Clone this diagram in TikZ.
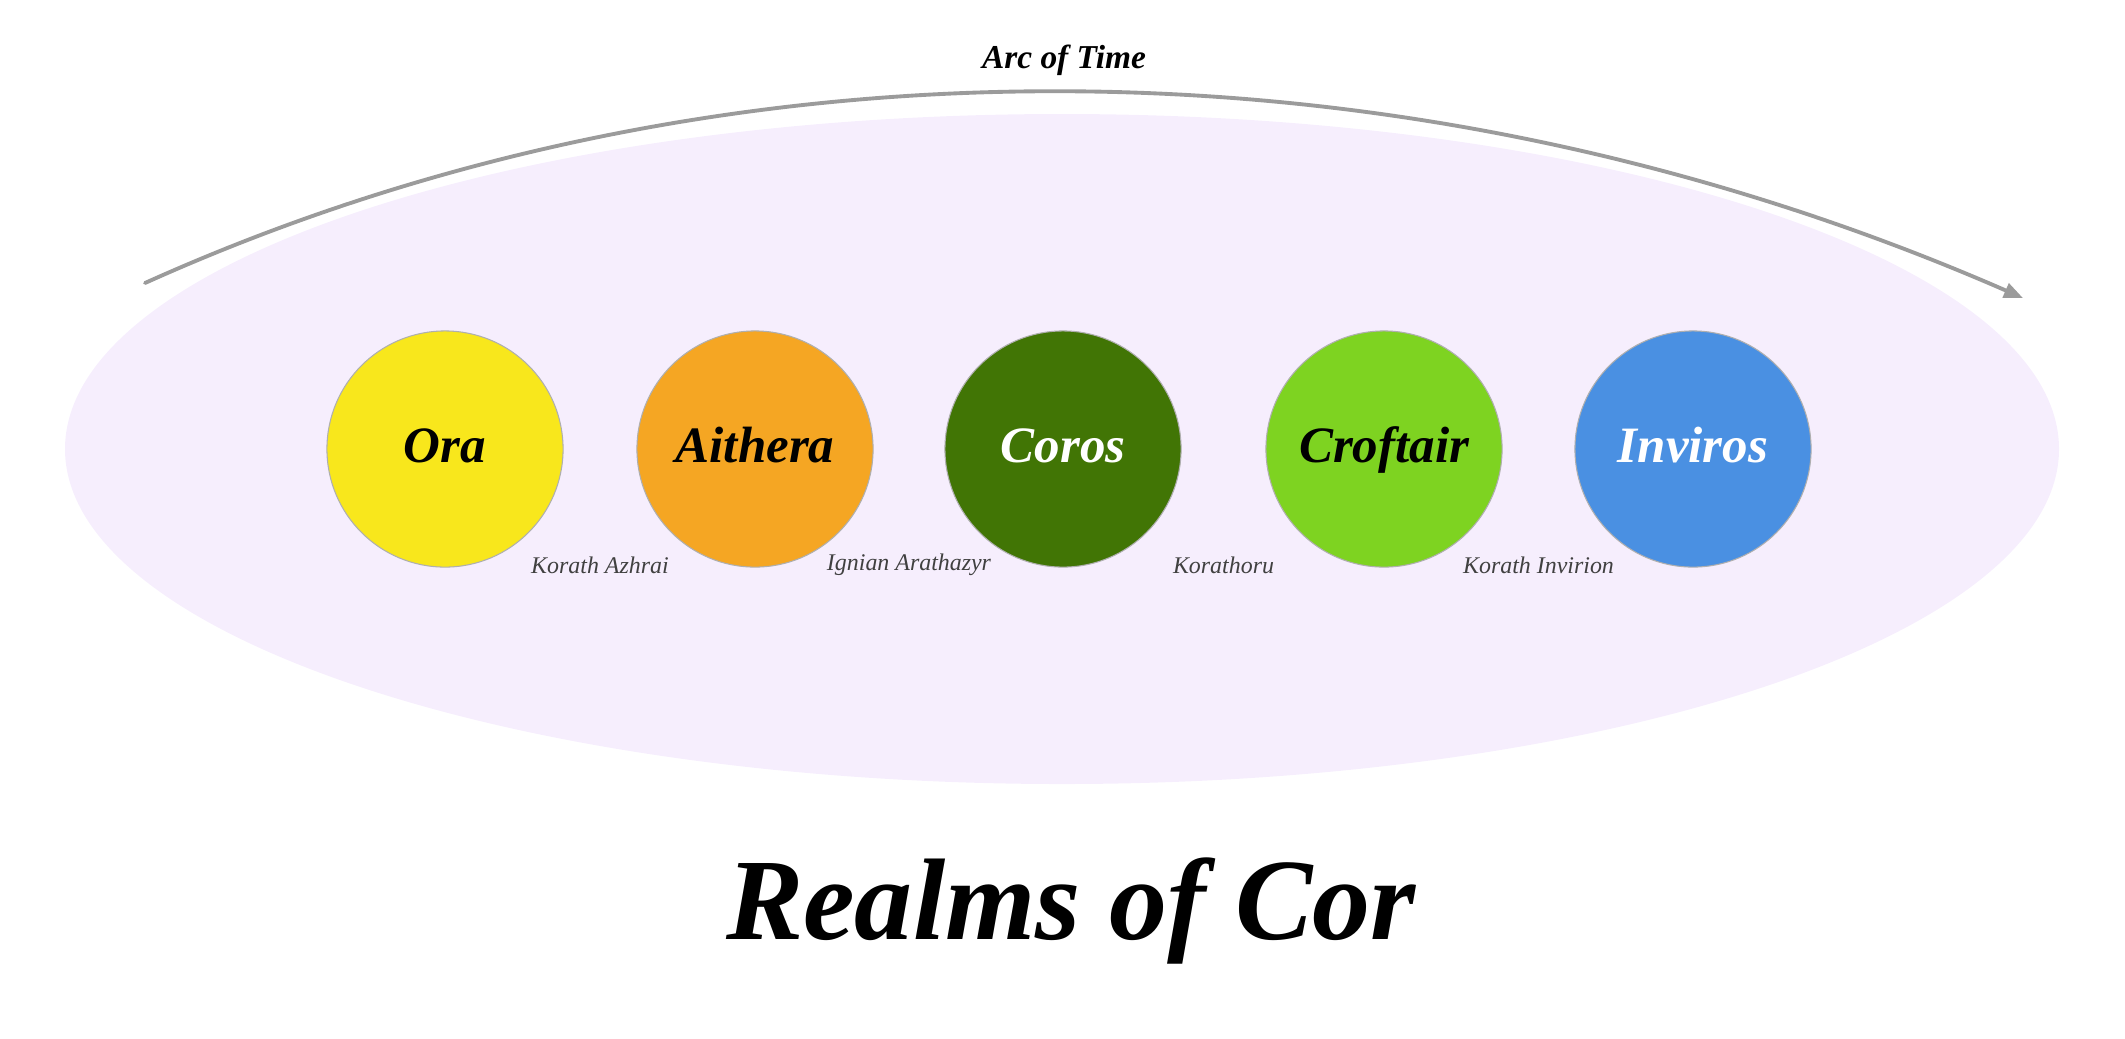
\documentclass[tikz,border=0pt]{standalone}
\usepackage{fontspec}
\setmainfont{Liberation Serif}
\usepackage{tikz}
\usetikzlibrary{
  arrows.meta, % Triangle 箭头
  calc,        % 坐标计算
  positioning  % 节点相对定位
}
\definecolor{realmyellow}{HTML}{F8E71C}
\definecolor{realmorange}{HTML}{F5A623}
\definecolor{realmdkgreen}{HTML}{417505}
\definecolor{realmgreen}{HTML}{7ED321}
\definecolor{realmblue}{HTML}{4A90E2}
\definecolor{realmhaze}{HTML}{F6EEFD}
\definecolor{arcgray}{HTML}{9B9B9B}
\definecolor{labelgray}{HTML}{404040}

\begin{document}
\begin{tikzpicture}[x=0.01cm, y=-0.01cm, >=Triangle, line join=round, line cap=round]
  % 统一设置：国度圆、连接名称、时间弧
  \tikzset{
    realm/.style={circle, draw=arcgray!80, line width=0.3pt, minimum size=2.36cm,
      inner sep=0pt, text height=1.0em, text depth=0.22em,
      font=\fontsize{14.5}{17}\selectfont\bfseries\itshape},
    bridge label/.style={font=\fontsize{6.8}{8}\selectfont\itshape, text=labelgray},
    time arc/.style={draw=arcgray, line width=1.1pt}
  }
  \useasboundingbox (0,0) rectangle (2125,1038);

  % =======================
  % 背景椭圆
  % =======================
  \fill[realmhaze] (1062,449) ellipse [x radius=997, y radius=335];

  % =======================
  % 五个国度
  % =======================
  \node[realm, fill=realmyellow]              (ora)      at (445,449)  {Ora};
  \node[realm, fill=realmorange]              (aithera)  at (755,449)  {Aithera};
  \node[realm, fill=realmdkgreen, text=white] (coros)    at (1063,449) {Coros};
  \node[realm, fill=realmgreen]               (croftair) at (1384,449) {Croftair};
  \node[realm, fill=realmblue, text=white]    (inviros)  at (1693,449) {Inviros};

  % 国度之间的名称（位于两圆中点下方）
  \node[bridge label] (azhrai)    at ($(ora)!0.5!(aithera)+(0,116)$)     {Korath Azhrai};
  \node[bridge label] (ignian)    at ($(aithera)!0.5!(coros)+(0,116)$)   {Ignian Arathazyr};
  \node[bridge label] (korathoru) at ($(coros)!0.5!(croftair)+(0,116)$)  {Korathoru};
  \node[bridge label] (invirion)  at ($(croftair)!0.5!(inviros)+(0,116)$) {Korath Invirion};

  % =======================
  % 时间弧与标题
  % =======================
  \coordinate (arcstart) at (145,283);
  \coordinate (arcend)   at (2023,298);
  \draw[time arc, -{Triangle[length=0.19cm, width=0.15cm]}]
    (arcstart) .. controls (715,26) and (1400,26) .. (arcend);
  \node[font=\fontsize{9.5}{11}\selectfont\bfseries\itshape] (arclabel) at (1064,60) {Arc of Time};

  \node[font=\fontsize{33}{38}\selectfont\bfseries\itshape] (title) at (1071,911) {Realms of Cor};
\end{tikzpicture}
\end{document}
